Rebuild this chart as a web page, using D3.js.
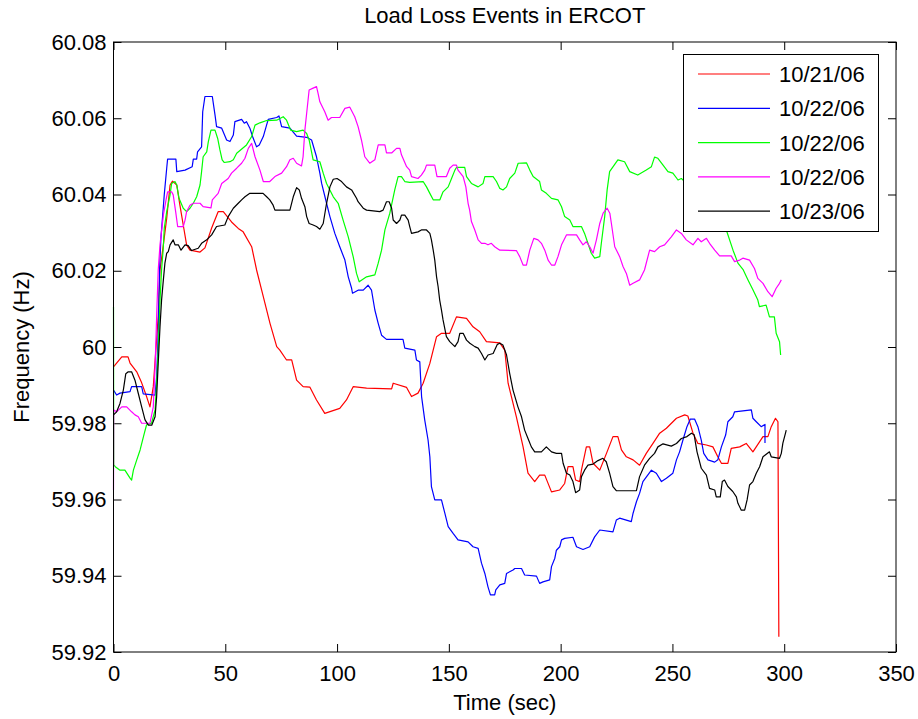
<!DOCTYPE html>
<html>
<head>
<meta charset="utf-8">
<script src="https://cdn.jsdelivr.net/npm/d3@7"></script>
<style>
	html, body { margin: 0; padding: 0; background: #fff; }
	svg { display: block; font-family: "Liberation Sans", Arial, sans-serif; }
</style>
</head>
<body>
<svg id="chart"></svg>
<script>
// Data: [time (sec), frequency (Hz)]
var red = [
	[0, 59.9948], [3.7, 59.9974], [6.5, 59.9974], [7.4, 59.9958], [10.4, 59.9935], [12.6, 59.9906],
	[14.8, 59.9870], [16.3, 59.9843], [17.8, 59.9896], [20.0, 60.0080], [20.8, 60.0202], [22.3, 60.0268],
	[23.8, 60.0338], [25.3, 60.0425], [26.4, 60.0435], [28.3, 60.0425], [29.7, 60.0372], [31.2, 60.0320],
	[32.7, 60.0268], [34.2, 60.0254], [38.7, 60.0249], [40.9, 60.0260], [43.9, 60.0312], [46.8, 60.0355],
	[49.1, 60.0355], [52.8, 60.0328], [55.8, 60.0311], [58.0, 60.0302], [61.8, 60.0263], [64.0, 60.0202],
	[67.0, 60.0132], [70.0, 60.0062], [73.0, 60.0001], [74.4, 59.9992], [77.4, 59.9966], [79.7, 59.9966],
	[81.9, 59.9913], [84.8, 59.9896], [87.8, 59.9895], [90.8, 59.9861], [94.5, 59.9826], [101.2, 59.9839],
	[104.2, 59.9861], [107.2, 59.9896], [113.2, 59.9892], [124.4, 59.9890], [125.1, 59.9905], [131.1, 59.9894],
	[133.3, 59.9870], [136.2, 59.9879], [138.5, 59.9905], [141.5, 59.9957], [144.5, 60.0027], [146.7, 60.0036],
	[150.4, 60.0036], [153.4, 60.0079], [157.9, 60.0075], [160.8, 60.0053], [163.8, 60.0040], [166.8, 60.0014],
	[172.8, 60.0011], [175.0, 59.9992], [176.5, 59.9905], [180.2, 59.9817], [183.2, 59.9738], [185.4, 59.9669],
	[188.4, 59.9647], [190.6, 59.9664], [192.9, 59.9664], [195.9, 59.9620], [199.6, 59.9625], [201.8, 59.9642],
	[203.3, 59.9686], [205.5, 59.9686], [206.7, 59.9651], [208.5, 59.9647], [209.3, 59.9677], [211.5, 59.9738],
	[213.0, 59.9738], [214.5, 59.9695], [217.5, 59.9677], [220.5, 59.9721], [223.4, 59.9765], [225.6, 59.9765],
	[227.2, 59.9730], [229.4, 59.9712], [232.4, 59.9704], [235.3, 59.9690], [238.3, 59.9721], [241.3, 59.9747],
	[244.3, 59.9774], [247.3, 59.9787], [251.8, 59.9813], [255.5, 59.9822], [256.9, 59.9819], [259.2, 59.9774],
	[261.4, 59.9747], [265.2, 59.9743], [268.1, 59.9738], [270.3, 59.9712], [271.9, 59.9695], [274.8, 59.9695],
	[276.3, 59.9734], [280.1, 59.9738], [283.0, 59.9747], [286.0, 59.9725], [290.5, 59.9765], [292.7, 59.9765],
	[294.2, 59.9791], [296.1, 59.9813], [297.2, 59.9804], [297.6, 59.9240]
];

var blue = [
	[0, 59.9887], [1.4, 59.9874], [2.9, 59.9879], [7.4, 59.9883], [8.1, 59.9896], [12.6, 59.9896],
	[13.3, 59.9877], [18.6, 59.9874], [19.3, 59.9922], [20.0, 60.0036], [20.6, 60.0202], [21.2, 60.0285],
	[22.7, 60.0399], [23.8, 60.0469], [24.2, 60.0493], [27.9, 60.0493], [28.3, 60.0460], [32.0, 60.0464],
	[35.2, 60.0473], [35.7, 60.0493], [37.2, 60.0493], [37.6, 60.0512], [39.4, 60.0525], [39.9, 60.0617],
	[40.9, 60.0657], [44.2, 60.0657], [45.4, 60.0609], [46.1, 60.0578], [48.4, 60.0574], [50.6, 60.0543],
	[52.1, 60.0539], [53.6, 60.0556], [54.3, 60.0591], [57.3, 60.0597], [58.5, 60.0587], [59.5, 60.0591],
	[61.0, 60.0574], [62.2, 60.0552], [64.0, 60.0525], [65.2, 60.0530], [67.0, 60.0552], [69.2, 60.0597],
	[73.0, 60.0602], [74.0, 60.0606], [75.2, 60.0578], [78.9, 60.0574], [81.9, 60.0553], [86.4, 60.0550],
	[88.6, 60.0543], [90.8, 60.0499], [92.3, 60.0456], [93.1, 60.0429], [95.3, 60.0377], [96.8, 60.0342],
	[99.0, 60.0298], [101.2, 60.0263], [103.5, 60.0228], [105.0, 60.0184], [106.5, 60.0154], [106.9, 60.0141],
	[109.4, 60.0149], [111.7, 60.0149], [113.9, 60.0162], [115.4, 60.0149], [116.9, 60.0097], [118.4, 60.0062],
	[119.9, 60.0031], [122.1, 60.0020], [129.5, 60.0020], [130.3, 59.9997], [134.8, 59.9992], [135.5, 59.9966],
	[137.0, 59.9961], [137.8, 59.9870], [139.2, 59.9809], [140.7, 59.9756], [141.5, 59.9712], [142.2, 59.9634],
	[143.7, 59.9599], [146.7, 59.9599], [148.2, 59.9564], [149.7, 59.9529], [151.9, 59.9511], [154.1, 59.9494],
	[158.6, 59.9489], [160.8, 59.9476], [163.1, 59.9472], [164.6, 59.9433], [166.1, 59.9406], [167.5, 59.9371],
	[168.6, 59.9350], [170.5, 59.9350], [171.0, 59.9363], [172.8, 59.9376], [175.0, 59.9380], [175.8, 59.9406],
	[178.7, 59.9415], [179.5, 59.9419], [182.5, 59.9419], [183.9, 59.9402], [189.2, 59.9399], [190.6, 59.9380],
	[192.1, 59.9384], [195.1, 59.9389], [195.9, 59.9424], [197.4, 59.9446], [198.1, 59.9467], [199.6, 59.9476],
	[200.4, 59.9494], [201.8, 59.9498], [205.5, 59.9501], [207.1, 59.9476], [210.0, 59.9469], [213.0, 59.9476],
	[215.2, 59.9502], [217.5, 59.9520], [223.4, 59.9515], [224.9, 59.9546], [226.4, 59.9551], [231.6, 59.9542],
	[232.4, 59.9564], [233.9, 59.9594], [235.3, 59.9616], [236.8, 59.9647], [240.6, 59.9677], [242.8, 59.9669],
	[245.1, 59.9647], [247.3, 59.9656], [250.2, 59.9669], [251.8, 59.9704], [253.2, 59.9725], [254.7, 59.9756],
	[256.5, 59.9791], [258.0, 59.9811], [259.9, 59.9811], [261.4, 59.9791], [262.9, 59.9756], [264.0, 59.9721],
	[265.9, 59.9704], [268.9, 59.9698], [270.3, 59.9704], [271.9, 59.9738], [273.8, 59.9769], [274.8, 59.9804],
	[277.0, 59.9817], [277.8, 59.9830], [285.3, 59.9835], [286.0, 59.9813], [287.5, 59.9804], [289.7, 59.9791],
	[291.4, 59.9797], [291.4, 59.9748]
];

var green = [
	[0, 60.0105], [0.1, 59.9691], [0.8, 59.9686], [2.9, 59.9677], [5.1, 59.9677], [7.4, 59.9656],
	[8.1, 59.9651], [8.9, 59.9677], [10.4, 59.9704], [11.9, 59.9730], [13.8, 59.9774], [14.8, 59.9796],
	[17.0, 59.9800], [18.6, 59.9835], [19.3, 59.9905], [20.0, 59.9992], [20.8, 60.0123], [21.5, 60.0202],
	[22.2, 60.0254], [22.7, 60.0311], [23.8, 60.0355], [25.3, 60.0399], [26.0, 60.0429], [27.5, 60.0434],
	[28.3, 60.0425], [29.3, 60.0390], [31.2, 60.0364], [32.7, 60.0355], [34.2, 60.0364], [35.7, 60.0377],
	[37.2, 60.0394], [38.7, 60.0425], [39.4, 60.0460], [40.1, 60.0499], [41.7, 60.0512], [42.4, 60.0538],
	[43.6, 60.0569], [45.4, 60.0569], [46.6, 60.0547], [47.6, 60.0517], [48.6, 60.0491], [49.5, 60.0484],
	[52.1, 60.0486], [53.6, 60.0491], [55.1, 60.0508], [59.5, 60.0530], [61.8, 60.0552], [63.3, 60.0582],
	[65.5, 60.0588], [68.5, 60.0594], [73.0, 60.0595], [75.9, 60.0604], [77.4, 60.0595], [79.2, 60.0569],
	[81.9, 60.0565], [84.8, 60.0569], [86.4, 60.0560], [87.5, 60.0543], [89.3, 60.0491], [92.3, 60.0486],
	[93.8, 60.0456], [95.3, 60.0429], [98.3, 60.0394], [100.5, 60.0377], [102.7, 60.0333], [105.0, 60.0289],
	[107.2, 60.0237], [108.7, 60.0193], [109.9, 60.0171], [113.2, 60.0184], [116.9, 60.0189], [118.4, 60.0220],
	[119.9, 60.0254], [121.4, 60.0307], [123.6, 60.0351], [125.8, 60.0412], [127.3, 60.0447], [128.8, 60.0447],
	[130.3, 60.0434], [132.5, 60.0432], [138.5, 60.0434], [140.0, 60.0420], [141.5, 60.0403], [143.0, 60.0386],
	[146.0, 60.0386], [147.4, 60.0407], [149.7, 60.0420], [151.2, 60.0442], [152.7, 60.0464], [153.4, 60.0471],
	[157.1, 60.0471], [157.9, 60.0447], [160.1, 60.0429], [163.1, 60.0420], [165.3, 60.0429], [166.1, 60.0447],
	[169.8, 60.0447], [171.3, 60.0434], [172.8, 60.0416], [174.2, 60.0412], [175.8, 60.0420], [177.2, 60.0442],
	[179.5, 60.0456], [181.0, 60.0482], [184.7, 60.0483], [186.2, 60.0464], [187.7, 60.0447], [190.6, 60.0434],
	[191.4, 60.0412], [193.6, 60.0403], [195.9, 60.0390], [198.8, 60.0386], [200.4, 60.0368], [201.8, 60.0342],
	[204.1, 60.0333], [205.5, 60.0316], [209.3, 60.0316], [210.7, 60.0298], [212.2, 60.0272], [213.7, 60.0246],
	[215.2, 60.0233], [217.5, 60.0237], [218.2, 60.0272], [219.7, 60.0342], [220.8, 60.0412], [221.9, 60.0460],
	[225.6, 60.0491], [228.6, 60.0486], [230.9, 60.0460], [234.5, 60.0451], [238.3, 60.0464], [240.6, 60.0473],
	[242.0, 60.0498], [243.5, 60.0495], [245.8, 60.0477], [248.0, 60.0460], [250.2, 60.0456], [252.5, 60.0438],
	[254.0, 60.0442], [262.0, 60.0400], [268.0, 60.0350], [274.1, 60.0307], [277.1, 60.0254], [279.3, 60.0220],
	[281.7, 60.0202], [283.8, 60.0176], [286.0, 60.0150], [288.2, 60.0123], [288.9, 60.0106], [291.9, 60.0110],
	[293.4, 60.0079], [295.6, 60.0079], [296.4, 60.0036], [297.9, 60.0014], [298.4, 59.9979]
];

var magenta = [
	[0, 59.9625], [0.1, 59.9835], [1.4, 59.9830], [3.7, 59.9843], [5.9, 59.9843], [8.1, 59.9830],
	[9.6, 59.9822], [11.1, 59.9817], [12.6, 59.9800], [16.3, 59.9800], [17.8, 59.9843], [18.6, 59.9948],
	[19.3, 60.0080], [20.0, 60.0202], [20.8, 60.0268], [22.3, 60.0346], [23.5, 60.0386], [24.2, 60.0407],
	[26.0, 60.0407], [26.7, 60.0399], [27.8, 60.0355], [28.7, 60.0316], [31.2, 60.0316], [32.0, 60.0333],
	[32.7, 60.0355], [34.2, 60.0372], [35.7, 60.0377], [38.7, 60.0377], [40.1, 60.0368], [43.6, 60.0365],
	[44.2, 60.0386], [46.8, 60.0403], [48.4, 60.0429], [51.3, 60.0442], [52.8, 60.0456], [55.1, 60.0469],
	[57.3, 60.0482], [58.8, 60.0495], [60.3, 60.0521], [61.8, 60.0534], [63.3, 60.0499], [65.5, 60.0464],
	[67.0, 60.0434], [69.9, 60.0434], [72.2, 60.0447], [75.2, 60.0456], [77.4, 60.0473], [78.9, 60.0491],
	[80.4, 60.0495], [81.9, 60.0482], [84.1, 60.0475], [84.8, 60.0499], [85.6, 60.0569], [86.4, 60.0613],
	[87.5, 60.0674], [89.3, 60.0679], [90.8, 60.0683], [91.5, 60.0665], [92.3, 60.0643], [94.5, 60.0617],
	[96.0, 60.0595], [97.5, 60.0602], [101.2, 60.0602], [103.5, 60.0626], [105.7, 60.0629], [107.9, 60.0604],
	[109.4, 60.0578], [110.9, 60.0543], [112.4, 60.0499], [114.6, 60.0482], [116.9, 60.0491], [118.4, 60.0530],
	[121.4, 60.0530], [122.1, 60.0509], [124.4, 60.0509], [126.6, 60.0521], [128.1, 60.0521], [128.8, 60.0504],
	[131.1, 60.0473], [132.5, 60.0464], [133.3, 60.0447], [136.2, 60.0442], [137.7, 60.0451], [139.2, 60.0464],
	[140.0, 60.0477], [143.7, 60.0477], [144.7, 60.0447], [148.9, 60.0447], [150.4, 60.0469], [151.9, 60.0477],
	[153.4, 60.0477], [154.1, 60.0464], [156.4, 60.0447], [157.6, 60.0420], [158.6, 60.0377], [159.3, 60.0359],
	[160.1, 60.0329], [161.6, 60.0307], [163.1, 60.0281], [164.6, 60.0272], [166.1, 60.0272], [167.5, 60.0268],
	[169.0, 60.0272], [170.5, 60.0263], [172.8, 60.0254], [180.2, 60.0253], [181.7, 60.0237], [183.2, 60.0215],
	[184.7, 60.0215], [186.2, 60.0254], [188.0, 60.0285], [189.9, 60.0281], [191.4, 60.0272], [192.9, 60.0254],
	[194.4, 60.0228], [195.9, 60.0215], [197.4, 60.0215], [198.8, 60.0237], [200.4, 60.0268], [202.6, 60.0294],
	[207.1, 60.0294], [208.5, 60.0281], [210.0, 60.0268], [211.5, 60.0276], [213.0, 60.0263], [214.5, 60.0246],
	[216.0, 60.0281], [217.5, 60.0324], [219.0, 60.0351], [220.8, 60.0364], [222.0, 60.0351], [222.7, 60.0324],
	[224.2, 60.0263], [226.4, 60.0237], [227.9, 60.0211], [229.4, 60.0193], [230.9, 60.0162], [232.4, 60.0167],
	[235.3, 60.0176], [237.5, 60.0202], [239.8, 60.0254], [242.0, 60.0250], [244.3, 60.0263], [246.5, 60.0268],
	[249.5, 60.0289], [251.8, 60.0307], [254.0, 60.0298], [256.2, 60.0281], [259.2, 60.0268], [261.4, 60.0285],
	[262.9, 60.0276], [265.2, 60.0285], [266.6, 60.0272], [268.9, 60.0254], [271.1, 60.0239], [276.3, 60.0239],
	[277.8, 60.0224], [280.1, 60.0228], [281.5, 60.0233], [284.5, 60.0228], [286.7, 60.0206], [288.2, 60.0180],
	[290.5, 60.0167], [292.7, 60.0145], [294.6, 60.0132], [296.4, 60.0154], [297.9, 60.0167], [298.7, 60.0176]
];

var black = [
	[0, 59.9822], [1.4, 59.9830], [2.9, 59.9852], [4.4, 59.9887], [5.5, 59.9930], [6.6, 59.9935],
	[8.1, 59.9935], [9.6, 59.9913], [11.1, 59.9878], [12.6, 59.9843], [14.1, 59.9809], [15.6, 59.9795],
	[17.1, 59.9795], [18.6, 59.9817], [19.3, 59.9870], [20.0, 59.9957], [20.8, 60.0053], [21.5, 60.0123],
	[22.3, 60.0176], [23.0, 60.0220], [23.8, 60.0246], [24.5, 60.0250], [25.3, 60.0268], [26.7, 60.0281],
	[27.5, 60.0268], [29.0, 60.0268], [30.2, 60.0254], [32.0, 60.0268], [33.4, 60.0266], [34.9, 60.0253],
	[37.9, 60.0259], [39.4, 60.0272], [41.7, 60.0281], [43.9, 60.0294], [46.1, 60.0316], [49.8, 60.0320],
	[51.3, 60.0342], [53.6, 60.0364], [55.8, 60.0377], [57.3, 60.0386], [58.8, 60.0394], [61.0, 60.0403],
	[66.9, 60.0403], [68.5, 60.0394], [69.9, 60.0386], [71.4, 60.0372], [72.2, 60.0359], [78.9, 60.0359],
	[80.4, 60.0394], [81.9, 60.0418], [83.1, 60.0412], [84.1, 60.0390], [85.6, 60.0368], [86.4, 60.0342],
	[87.5, 60.0324], [89.3, 60.0320], [90.8, 60.0316], [92.3, 60.0309], [93.8, 60.0324], [95.3, 60.0377],
	[96.8, 60.0420], [98.3, 60.0440], [100.0, 60.0442], [102.0, 60.0434], [104.2, 60.0420], [106.5, 60.0412],
	[108.7, 60.0390], [109.4, 60.0381], [111.7, 60.0364], [113.2, 60.0359], [119.1, 60.0355], [120.6, 60.0359],
	[122.1, 60.0381], [123.3, 60.0381], [124.4, 60.0364], [125.1, 60.0333], [126.6, 60.0324], [128.1, 60.0333],
	[128.8, 60.0346], [130.3, 60.0346], [131.8, 60.0333], [132.5, 60.0316], [133.3, 60.0298], [136.2, 60.0302],
	[137.7, 60.0307], [140.0, 60.0307], [141.5, 60.0298], [142.2, 60.0281], [143.0, 60.0254], [143.7, 60.0228],
	[144.5, 60.0184], [145.2, 60.0158], [145.9, 60.0123], [146.7, 60.0097], [147.4, 60.0071], [148.9, 60.0027],
	[150.4, 60.0014], [152.7, 60.0001], [154.1, 60.0014], [154.9, 60.0036], [156.4, 60.0036], [157.9, 60.0018],
	[159.4, 60.0010], [161.6, 60.0001], [163.1, 59.9997], [164.6, 59.9983], [166.1, 59.9966], [167.5, 59.9979],
	[169.8, 59.9983], [171.7, 60.0007], [172.8, 60.0010], [174.2, 60.0005], [175.8, 59.9979], [177.2, 59.9931],
	[178.7, 59.9887], [180.9, 59.9843], [182.5, 59.9817], [183.9, 59.9782], [185.4, 59.9760], [186.9, 59.9738],
	[188.4, 59.9725], [191.4, 59.9725], [193.6, 59.9738], [195.9, 59.9725], [198.1, 59.9721], [200.4, 59.9721],
	[201.1, 59.9695], [202.6, 59.9669], [204.1, 59.9664], [205.5, 59.9647], [206.7, 59.9618], [208.5, 59.9625],
	[209.3, 59.9660], [210.7, 59.9677], [212.2, 59.9690], [214.5, 59.9693], [216.7, 59.9702], [218.9, 59.9708],
	[220.4, 59.9699], [221.9, 59.9669], [223.4, 59.9634], [224.9, 59.9623], [233.9, 59.9623], [235.3, 59.9660],
	[237.5, 59.9690], [239.8, 59.9708], [242.0, 59.9721], [243.5, 59.9738], [245.8, 59.9746], [249.5, 59.9740],
	[251.8, 59.9747], [254.0, 59.9760], [256.5, 59.9765], [258.5, 59.9774], [259.7, 59.9770], [261.0, 59.9725],
	[262.9, 59.9682], [265.2, 59.9664], [266.6, 59.9629], [268.9, 59.9625], [269.6, 59.9607], [271.4, 59.9607],
	[272.3, 59.9647], [273.3, 59.9651], [274.8, 59.9634], [277.0, 59.9621], [278.6, 59.9607], [279.3, 59.9590],
	[280.8, 59.9572], [282.3, 59.9572], [283.4, 59.9599], [284.5, 59.9638], [286.0, 59.9647], [287.5, 59.9669],
	[289.0, 59.9686], [290.5, 59.9712], [293.4, 59.9725], [294.2, 59.9712], [297.9, 59.9708], [298.7, 59.9721],
	[299.4, 59.9748], [300.6, 59.9775], [300.9, 59.9782]
];

var seriesNames = ["10/21/06", "10/22/06", "10/22/06", "10/22/06", "10/23/06"];
var seriesColors = ["#ff0000", "#0000ff", "#00ff00", "#ff00ff", "#000000"];

var xTicks = [0, 50, 100, 150, 200, 250, 300, 350];
var yTicks = [59.92, 59.94, 59.96, 59.98, 60, 60.02, 60.04, 60.06, 60.08];
var yTickLabels = ["59.92", "59.94", "59.96", "59.98", "60", "60.02", "60.04", "60.06", "60.08"];

function LineChart(selector) {
	// Elements
	var svg = d3.select(selector),
		width = 918,
		height = 719,
		left = 113.5,
		right = 896,
		top = 42,
		bottom = 652,
		font = 22;

	svg.attr("width", width).attr("height", height);

	var x = d3.scaleLinear().domain([0, 350]).range([left, right]),
		y = d3.scaleLinear().domain([59.92, 60.08]).range([bottom, top]);

	svg.append("rect")
		.attr("width", width)
		.attr("height", height)
		.attr("fill", "#fff");

	// Axes (ticks point inward, on all four sides)
	var xAxisBottom = d3.axisBottom(x)
		.tickValues(xTicks)
		.tickFormat(d3.format("d"))
		.tickSizeInner(-8)
		.tickSizeOuter(0)
		.tickPadding(13);

	var xAxisTop = d3.axisTop(x)
		.tickValues(xTicks)
		.tickFormat("")
		.tickSizeInner(-8)
		.tickSizeOuter(0);

	var yAxisLeft = d3.axisLeft(y)
		.tickValues(yTicks)
		.tickFormat(function (d, i) { return yTickLabels[i]; })
		.tickSizeInner(-8)
		.tickSizeOuter(0)
		.tickPadding(7);

	var yAxisRight = d3.axisRight(y)
		.tickValues(yTicks)
		.tickFormat("")
		.tickSizeInner(-8)
		.tickSizeOuter(0);

	function styleAxis(g) {
		g.select(".domain").remove();
		g.selectAll(".tick line").attr("stroke", "#000").attr("stroke-width", 1);
		g.selectAll(".tick text")
			.attr("fill", "#000")
			.style("font-size", font + "px")
			.style("font-family", "'Liberation Sans', Arial, sans-serif");
	}

	svg.append("g").attr("transform", "translate(0," + bottom + ")").call(xAxisBottom).call(styleAxis);
	svg.append("g").attr("transform", "translate(0," + top + ")").call(xAxisTop).call(styleAxis);
	svg.append("g").attr("transform", "translate(" + left + ",0)").call(yAxisLeft).call(styleAxis);
	svg.append("g").attr("transform", "translate(" + right + ",0)").call(yAxisRight).call(styleAxis);

	// Lines
	var line = d3.line()
		.x(function (d) { return x(d[0]); })
		.y(function (d) { return y(d[1]); });

	var allSeries = [red, blue, green, magenta, black];

	svg.append("g")
		.selectAll("path")
		.data(allSeries)
		.enter().append("path")
		.attr("d", line)
		.attr("fill", "none")
		.attr("stroke", function (d, i) { return seriesColors[i]; })
		.attr("stroke-width", 1.2)
		.attr("stroke-linejoin", "round");

	// Frame
	svg.append("rect")
		.attr("x", left)
		.attr("y", top)
		.attr("width", right - left)
		.attr("height", bottom - top)
		.attr("fill", "none")
		.attr("stroke", "#000")
		.attr("stroke-width", 1);

	// Titles
	svg.append("text")
		.attr("x", (left + right) / 2)
		.attr("y", 23)
		.attr("text-anchor", "middle")
		.style("font-size", font + "px")
		.text("Load Loss Events in ERCOT");

	svg.append("text")
		.attr("x", (left + right) / 2)
		.attr("y", 710)
		.attr("text-anchor", "middle")
		.style("font-size", font + "px")
		.text("Time (sec)");

	svg.append("text")
		.attr("transform", "translate(29," + ((top + bottom) / 2) + ") rotate(-90)")
		.attr("text-anchor", "middle")
		.style("font-size", font + "px")
		.text("Frequency (Hz)");

	// Legend
	var legend = svg.append("g").attr("transform", "translate(683,54)");

	legend.append("rect")
		.attr("x", 0.5)
		.attr("y", 0.5)
		.attr("width", 195)
		.attr("height", 177)
		.attr("fill", "#fff")
		.attr("stroke", "#000")
		.attr("stroke-width", 1);

	var items = legend.selectAll("g.item")
		.data(seriesNames)
		.enter().append("g")
		.attr("class", "item")
		.attr("transform", function (d, i) { return "translate(0," + (20 + i * 34.3) + ")"; });

	items.append("line")
		.attr("x1", 15)
		.attr("x2", 87)
		.attr("stroke", function (d, i) { return seriesColors[i]; })
		.attr("stroke-width", 1.2);

	items.append("text")
		.attr("x", 96)
		.attr("dy", "0.36em")
		.style("font-size", font + "px")
		.text(function (d) { return d; });
}

LineChart("#chart");
</script>
</body>
</html>
